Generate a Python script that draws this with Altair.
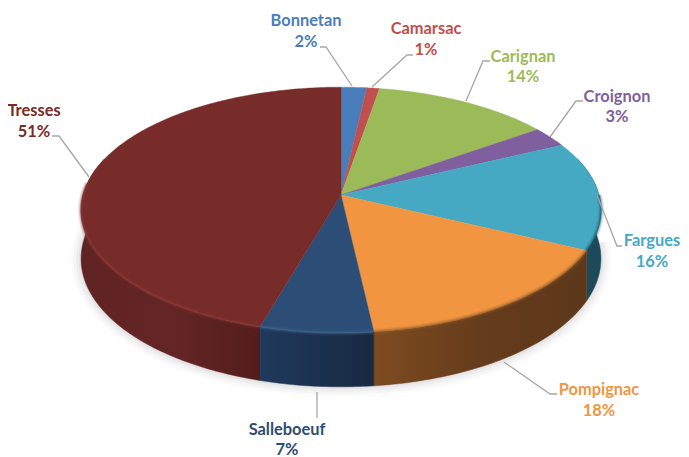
import math
import altair as alt
import pandas as pd

# chart values
names = ["Bonnetan", "Camarsac", "Carignan", "Croignon", "Fargues", "Pompignac", "Salleboeuf", "Tresses"]
shares = [2, 1, 14, 3, 16, 18, 7, 51]
colors = ["#4a7ebb", "#c0504d", "#9bbb59", "#7f5f9e", "#46a9c3", "#f29540", "#2c4d75", "#772c2a"]
side_stops = {
    "Tresses": ["#5f2321", "#642624", "#531d1c"],
    "Salleboeuf": ["#1f3a5c", "#1c3150", "#18283f"],
    "Pompignac": ["#7e4c20", "#653c1c", "#5d381a"],
    "Fargues": ["#1c4a5a", "#1c4a5a", "#1c4a5a"],
}
rims = {"Tresses": "#8a3a38", "Salleboeuf": "#40668f", "Pompignac": "#8f5a28", "Fargues": "#1f5566"}

label_xy = [(306, 21, 42), (426, 29, 50), (523, 57, 77), (617, 97, 117),
            (652, 241, 262), (599, 390, 411), (287, 430, 450), (34, 111, 132)]
leaders = [
    [(320, 47), (326, 47), (352, 86)],
    [(413, 55), (407, 55), (372, 87)],
    [(490, 61), (483, 61), (466, 101)],
    [(583, 101), (576, 101), (550, 137)],
    [(622, 246), (617, 246), (597, 195)],
    [(557, 394), (550, 394), (504, 362)],
    [(317, 392), (317, 418)],
    [(52, 136), (59, 136), (89, 177)],
]

# geometry of the tilted disc
CX, CY, KX, KY, P = 341, 195, 258, 121, 0.122
W, H = 673, 449
xs = alt.Scale(domain=[8, 8 + W], range=[0, W], nice=False, zero=False)
ys = alt.Scale(domain=[8, 8 + H], range=[0, H], nice=False, zero=False)


def top(f):
    a = 2 * math.pi * f
    c, s = math.sin(a), -math.cos(a)
    d = 1 - P * s
    return CX + KX * c / d, CY + KY * s / d


def bottom(f):
    a = 2 * math.pi * f
    x, y = top(f)
    return x, y + 48 + 6 * (-math.cos(a))


def arc(fn, f0, f1, step=0.002):
    n = max(2, int((f1 - f0) / step))
    return [fn(f0 + (f1 - f0) * i / n) for i in range(n + 1)]


def frame(pts):
    return pd.DataFrame({"x": [p[0] for p in pts], "y": [p[1] for p in pts], "i": range(len(pts))})


def enc(chart):
    return chart.encode(
        x=alt.X("x:Q", scale=xs, axis=None),
        y=alt.Y("y:Q", scale=ys, axis=None),
        order="i:Q",
    )


def grad(stops):
    return alt.Gradient(
        gradient="linear", x1=0, x2=1, y1=0, y2=0,
        stops=[alt.GradientStop(offset=i / (len(stops) - 1), color=c) for i, c in enumerate(stops)],
    )


total = sum(shares)
fracs = {}
acc = 0
for n, v in zip(names, shares):
    fracs[n] = (acc / total, (acc + v) / total)
    acc += v

layers = []

# soft shadow below the disc
shadow = arc(bottom, 0.25, 0.78)
for w, o in [(20, 0.035), (15, 0.05), (10, 0.06), (5, 0.08)]:
    layers.append(enc(alt.Chart(frame(shadow)).mark_line(stroke="#808080", strokeWidth=w, opacity=o)))

# side wall
for n in ["Tresses", "Fargues", "Pompignac", "Salleboeuf"]:
    f0, f1 = fracs[n]
    f0, f1 = max(f0, 0.2), min(f1, 0.8)
    pts = arc(top, f0, f1) + arc(bottom, f0, f1)[::-1]
    layers.append(enc(alt.Chart(frame(pts)).mark_line(
        interpolate="linear-closed", fill=grad(side_stops[n]), stroke=side_stops[n][1], strokeWidth=0.5)))

# top face
for n, col in zip(names, colors):
    f0, f1 = fracs[n]
    pts = [(CX, CY)] + arc(top, f0, f1)
    layers.append(enc(alt.Chart(frame(pts)).mark_line(
        interpolate="linear-closed", fill=col, stroke=col, strokeWidth=0.4)))

# bevel on the near edge
for n in rims:
    f0, f1 = fracs[n]
    f0, f1 = max(f0, 0.25), min(f1, 0.765)
    pts = arc(top, f0, f1)
    for w, o in [(6, 0.14), (3.5, 0.25), (1.8, 0.4)]:
        layers.append(enc(alt.Chart(frame(pts)).mark_line(stroke=rims[n], strokeWidth=w, opacity=o)))

# leader lines
for pts in leaders:
    layers.append(enc(alt.Chart(frame(pts)).mark_line(stroke="#a6a6a6", strokeWidth=1.3)))

# labels
rows = []
for n, v, col, (lx, y1, y2) in zip(names, shares, colors, label_xy):
    rows.append({"x": lx, "y": y1, "t": n, "c": col})
    rows.append({"x": lx, "y": y2, "t": f"{v}%", "c": col})
layers.append(alt.Chart(pd.DataFrame(rows)).mark_text(
    font="Lato", fontWeight="bold", fontSize=16.4, align="center", baseline="middle", clip=False
).encode(
    x=alt.X("x:Q", scale=xs, axis=None),
    y=alt.Y("y:Q", scale=ys, axis=None),
    text="t:N",
    color=alt.Color("c:N", scale=None),
))

chart = alt.layer(*layers).properties(
    width=W, height=H, padding=0, background="white",
    autosize=alt.AutoSizeParams(type="none"),
).configure_view(stroke=None)

chart.save("out.html", embed_options={"renderer": "svg", "actions": False})
